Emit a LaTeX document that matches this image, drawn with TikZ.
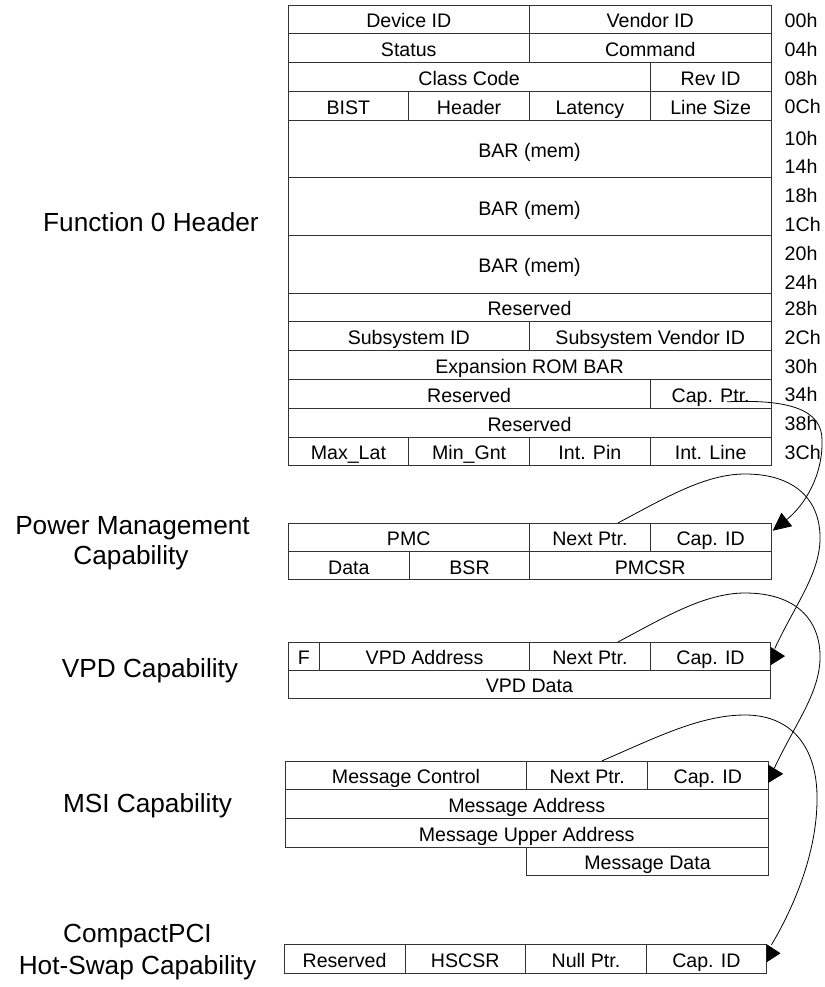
\documentclass[tikz,border=0pt]{standalone}
\usepackage{fontspec}
\setmainfont{Liberation Sans}
\usetikzlibrary{arrows.meta,calc}
\newcommand\tcell[6]{\node[cellbox, minimum width={(#3-#2)*1pt}, minimum height={(#5)*1pt}] (#1) at ({(#2+#3)/2},{#4+(#5)/2}) {#6};}
\begin{document}
\begin{tikzpicture}[x=1pt,y=-1pt,
  cellbox/.style={draw=black!80, line width=0.9pt, inner sep=0pt, outer sep=0pt,
    font=\fontsize{19.6}{23}\selectfont, text height=18pt, text depth=1pt},
  offs/.style={anchor=west, inner sep=0pt, font=\fontsize{19.6}{23}\selectfont},
  side/.style={anchor=base, inner sep=0pt, font=\fontsize{26.2}{30}\selectfont},
  link/.style={line width=0.8pt},
  tri/.style={-{Triangle[length=#1,width=18pt]}, line width=0.8pt}]
\useasboundingbox (0,0) rectangle (824,987);

% ---------- Function 0 header ----------
\tcell{devid}{288}{529.5}{5}{28.8}{Device ID}
\tcell{vendid}{529.5}{771}{5}{28.8}{Vendor ID}
\tcell{status}{288}{529.5}{33.8}{28.8}{Status}
\tcell{command}{529.5}{771}{33.8}{28.8}{Command}
\tcell{classcode}{288}{650.25}{62.6}{28.8}{Class Code}
\tcell{revid}{650.25}{771}{62.6}{28.8}{Rev ID}
\tcell{bist}{288}{408.75}{91.4}{28.8}{BIST}
\tcell{hdr}{408.75}{529.5}{91.4}{28.8}{Header}
\tcell{latency}{529.5}{650.25}{91.4}{28.8}{Latency}
\tcell{linesize}{650.25}{771}{91.4}{28.8}{Line Size}
\tcell{bara}{288}{771}{120.2}{57.6}{BAR (mem)}
\tcell{barb}{288}{771}{177.8}{57.6}{BAR (mem)}
\tcell{barc}{288}{771}{235.4}{57.6}{BAR (mem)}
\tcell{resa}{288}{771}{293}{28.8}{Reserved}
\tcell{subid}{288}{529.5}{321.8}{28.8}{Subsystem ID}
\tcell{subvid}{529.5}{771}{321.8}{28.8}{Subsystem Vendor ID}
\tcell{exprom}{288}{771}{350.6}{28.8}{Expansion ROM BAR}
\tcell{resb}{288}{650.25}{379.4}{28.8}{Reserved}
\tcell{capptr}{650.25}{771}{379.4}{28.8}{Cap. Ptr.}
\tcell{resc}{288}{771}{408.2}{28.8}{Reserved}
\tcell{maxlat}{288}{408.75}{437}{28.8}{Max\_Lat}
\tcell{mingnt}{408.75}{529.5}{437}{28.8}{Min\_Gnt}
\tcell{intpin}{529.5}{650.25}{437}{28.8}{Int. Pin}
\tcell{intline}{650.25}{771}{437}{28.8}{Int. Line}

% offsets
\node[offs] (o00) at (784.5,20.4) {00h};
\node[offs] (o04) at (784.5,49.2) {04h};
\node[offs] (o08) at (784.5,78) {08h};
\node[offs] (o0C) at (784.5,106.8) {0Ch};
\node[offs] (o10) at (784.5,138) {10h};
\node[offs] (o14) at (784.5,166.8) {14h};
\node[offs] (o18) at (784.5,195.6) {18h};
\node[offs] (o1C) at (784.5,224.4) {1Ch};
\node[offs] (o20) at (784.5,253.2) {20h};
\node[offs] (o24) at (784.5,282) {24h};
\node[offs] (o28) at (784.5,308.4) {28h};
\node[offs] (o2C) at (784.5,337.2) {2Ch};
\node[offs] (o30) at (784.5,366) {30h};
\node[offs] (o34) at (784.5,394.8) {34h};
\node[offs] (o38) at (784.5,423.6) {38h};
\node[offs] (o3C) at (784.5,452.4) {3Ch};

% ---------- Power Management ----------
\tcell{pmc}{288}{529.5}{523}{28.4}{PMC}
\tcell{pmnext}{529.5}{650.25}{523}{28.4}{Next Ptr.}
\tcell{pmcap}{650.25}{771}{523}{28.4}{Cap. ID}
\tcell{pmdata}{288}{409.6}{551.4}{28.4}{Data}
\tcell{pmbsr}{409.6}{529.5}{551.4}{28.4}{BSR}
\tcell{pmcsr}{529.5}{771}{551.4}{28.4}{PMCSR}

% ---------- VPD ----------
\tcell{vf}{288}{319.5}{642}{28.2}{F}
\tcell{vaddr}{319.5}{529.5}{642}{28.2}{VPD Address}
\tcell{vpdnext}{529.5}{650.25}{642}{28.2}{Next Ptr.}
\tcell{vpdcap}{650.25}{770.7}{642}{28.2}{Cap. ID}
\tcell{vdata}{288}{770.7}{670.2}{28.2}{VPD Data}

% ---------- MSI ----------
\tcell{mctl}{285.2}{526.9}{761}{28.7}{Message Control}
\tcell{msinext}{526.9}{647.4}{761}{28.7}{Next Ptr.}
\tcell{msicap}{647.4}{768.2}{761}{28.7}{Cap. ID}
\tcell{maddr}{285.2}{768.2}{789.7}{28.7}{Message Address}
\tcell{mup}{285.2}{768.2}{818.4}{28.7}{Message Upper Address}
\tcell{mdata}{526.9}{768.2}{847.1}{28.7}{Message Data}

% ---------- Hot-Swap ----------
\tcell{hres}{284.1}{405}{944.5}{28.5}{Reserved}
\tcell{hscsr}{405}{525.5}{944.5}{28.5}{HSCSR}
\tcell{hnull}{525.5}{646.3}{944.5}{28.5}{Null Ptr.}
\tcell{hscap}{646.3}{766.5}{944.5}{28.5}{Cap. ID}

% ---------- side labels ----------
\node[side] (lf0) at (151,231) {Function 0 Header};
\node[side] (lpm1) at (132.5,534) {Power Management};
\node[side] (lpm2) at (131,564) {Capability};
\node[side] (lvpd) at (150,677) {VPD Capability};
\node[side] (lmsi) at (147.5,812) {MSI Capability};
\node[side] (lcp1) at (137.5,942.5) {CompactPCI};
\node[side] (lcp2) at (137.5,974) {Hot-Swap Capability};

% ---------- end points ----------
\coordinate (c1s) at ($(capptr.center)+(16.4,8)$);
\coordinate (c1e) at ($(pmcap.east)+(1.7,-6.5)$);
\coordinate (c2s) at ($(pmnext.north)+(28,0)$);
\coordinate (c2e) at ($(vpdcap.east)+(4,-7.5)$);
\coordinate (c3s) at ($(vpdnext.north)+(28,0)$);
\coordinate (c3e) at ($(msicap.east)+(6,-7)$);
\coordinate (c4s) at ($(msinext.north)+(14.5,0)$);
\coordinate (c4e) at ($(hscap.east)+(5,-14)$);

% ---------- pointer chain ----------
\draw[link,-{Triangle[length=18pt,width=17pt]}] (c1s)
  .. controls (790,399) and (822,410) .. (822,440)
  .. controls (823,475) and (805,505) .. (c1e);
\draw[link] (c2s)
  .. controls (665,498) and (705,474) .. (745,474)
  .. controls (795,474) and (821,500) .. (820,540)
  .. controls (819,575) and (795,605) .. (c2e);
\draw[link] (c3s)
  .. controls (665,617) and (705,593) .. (745,593)
  .. controls (795,593) and (821,619) .. (820,659)
  .. controls (819,694) and (795,724) .. (c3e);
\draw[link] (c4s)
  .. controls (655,738) and (700,715) .. (745,715)
  .. controls (790,715) and (816,745) .. (817,795)
  .. controls (818,850) and (795,905) .. (c4e);

% arrowheads at the capability IDs
\draw[tri=14.3pt] (vpdcap.east) -- ++(14.3,0);
\draw[tri=15pt] ($(msicap.east)+(0,-1.5)$) -- ++(15,0);
\draw[tri=14pt] ($(hscap.east)+(0,-5.5)$) -- ++(14,0);
\end{tikzpicture}
\end{document}
